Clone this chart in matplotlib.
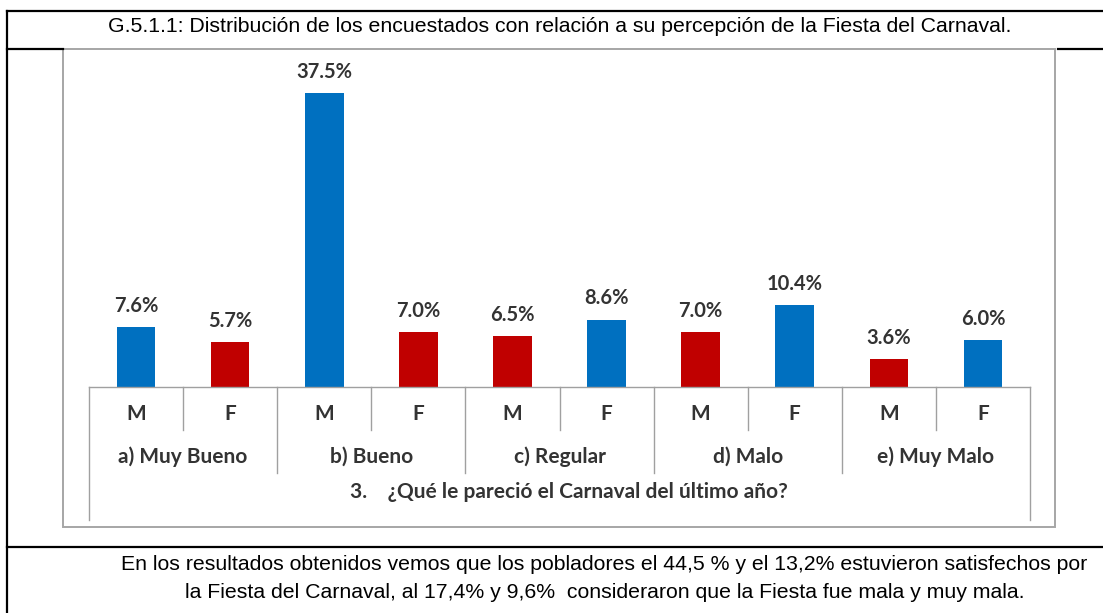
import matplotlib.pyplot as plt
from matplotlib.lines import Line2D
from matplotlib.patches import Rectangle
from matplotlib.transforms import blended_transform_factory

# data
groups = ["a) Muy Bueno", "b) Bueno", "c) Regular", "d) Malo", "e) Muy Malo"]
sexes = ["M", "F", "M", "F", "M", "F", "M", "F", "M", "F"]
values = [7.6, 5.7, 37.5, 7.0, 6.5, 8.6, 7.0, 10.4, 3.6, 6.0]
bar_colors = ["#0070C0", "#C00000", "#0070C0", "#C00000", "#C00000",
              "#0070C0", "#C00000", "#0070C0", "#C00000", "#0070C0"]
title = "G.5.1.1: Distribución de los encuestados con relación a su percepción de la Fiesta del Carnaval."
question = "3.    ¿Qué le pareció el Carnaval del último año?"
note_1 = "En los resultados obtenidos vemos que los pobladores el 44,5 % y el 13,2% estuvieron satisfechos por"
note_2 = "la Fiesta del Carnaval, al 17,4% y 9,6%  consideraron que la Fiesta fue mala y muy mala."

W, H = 1103, 613


def fx(x):
    return x / W


def fy(y):
    return 1 - y / H


fig = plt.figure(figsize=(W / 100, H / 100), dpi=100)

# outer frame of the document table
black = dict(color="black", lw=1.6, transform=fig.transFigure)
fig.add_artist(Line2D([fx(7), fx(1103)], [fy(11), fy(11)], **black))
fig.add_artist(Line2D([fx(7), fx(7)], [fy(11), fy(613)], **black))
fig.add_artist(Line2D([fx(7), fx(63)], [fy(49), fy(49)], **black))
fig.add_artist(Line2D([fx(1058), fx(1103)], [fy(49), fy(49)], **black))
fig.add_artist(Line2D([fx(7), fx(1103)], [fy(547), fy(547)], **black))

# chart box
fig.add_artist(Rectangle((fx(63), fy(527)), fx(1055) - fx(63), fy(49) - fy(527),
                         transform=fig.transFigure, fill=False,
                         edgecolor="#A6A6A6", lw=1.4))

note = dict(ha="center", va="center", family="Liberation Sans", fontsize=15.3)
fig.text(fx(560), fy(27), title, **note)
fig.text(fx(604), fy(564), note_1, **note)
fig.text(fx(605), fy(592), note_2, **note)

# plot area
ax = fig.add_axes([fx(89), fy(387), fx(1030) - fx(89), fy(60) - fy(387)])
x = list(range(len(values)))
bars = ax.bar(x, values, width=0.41, color=bar_colors)
ax.set_xlim(-0.5, 9.5)
ax.set_ylim(0, 327 / 7.84)
ax.axis("off")

txt = dict(family="Lato", fontweight="bold", color="#333333")
for b, v in zip(bars, values):
    ax.annotate(f"{v:.1f}%", (b.get_x() + b.get_width() / 2, v),
                xytext=(0, 8), textcoords="offset points",
                ha="center", va="bottom", fontsize=14.5, **txt)

# category table under the bars
tr = blended_transform_factory(ax.transData, fig.transFigure)
grey = dict(color="#A0A0A0", lw=1.0, transform=tr, clip_on=False)
ax.add_line(Line2D([-0.5, 9.5], [fy(387), fy(387)], **grey))
for i in range(11):
    xb = i - 0.5
    if i in (0, 10):
        bottom = 520
    elif i % 2 == 0:
        bottom = 473
    else:
        bottom = 430
    ax.add_line(Line2D([xb, xb], [fy(387), fy(bottom)], **grey))

for i, s in enumerate(sexes):
    ax.text(i, fy(414), s, transform=tr, ha="center", va="center",
            fontsize=15, **txt)
for g, name in enumerate(groups):
    ax.text(2 * g + 0.5, fy(457), name, transform=tr, ha="center", va="center",
            fontsize=15, **txt)
ax.text(4.6, fy(492), question, transform=tr, ha="center", va="center",
        fontsize=15, **txt)

fig.savefig("out.png", dpi=100)
